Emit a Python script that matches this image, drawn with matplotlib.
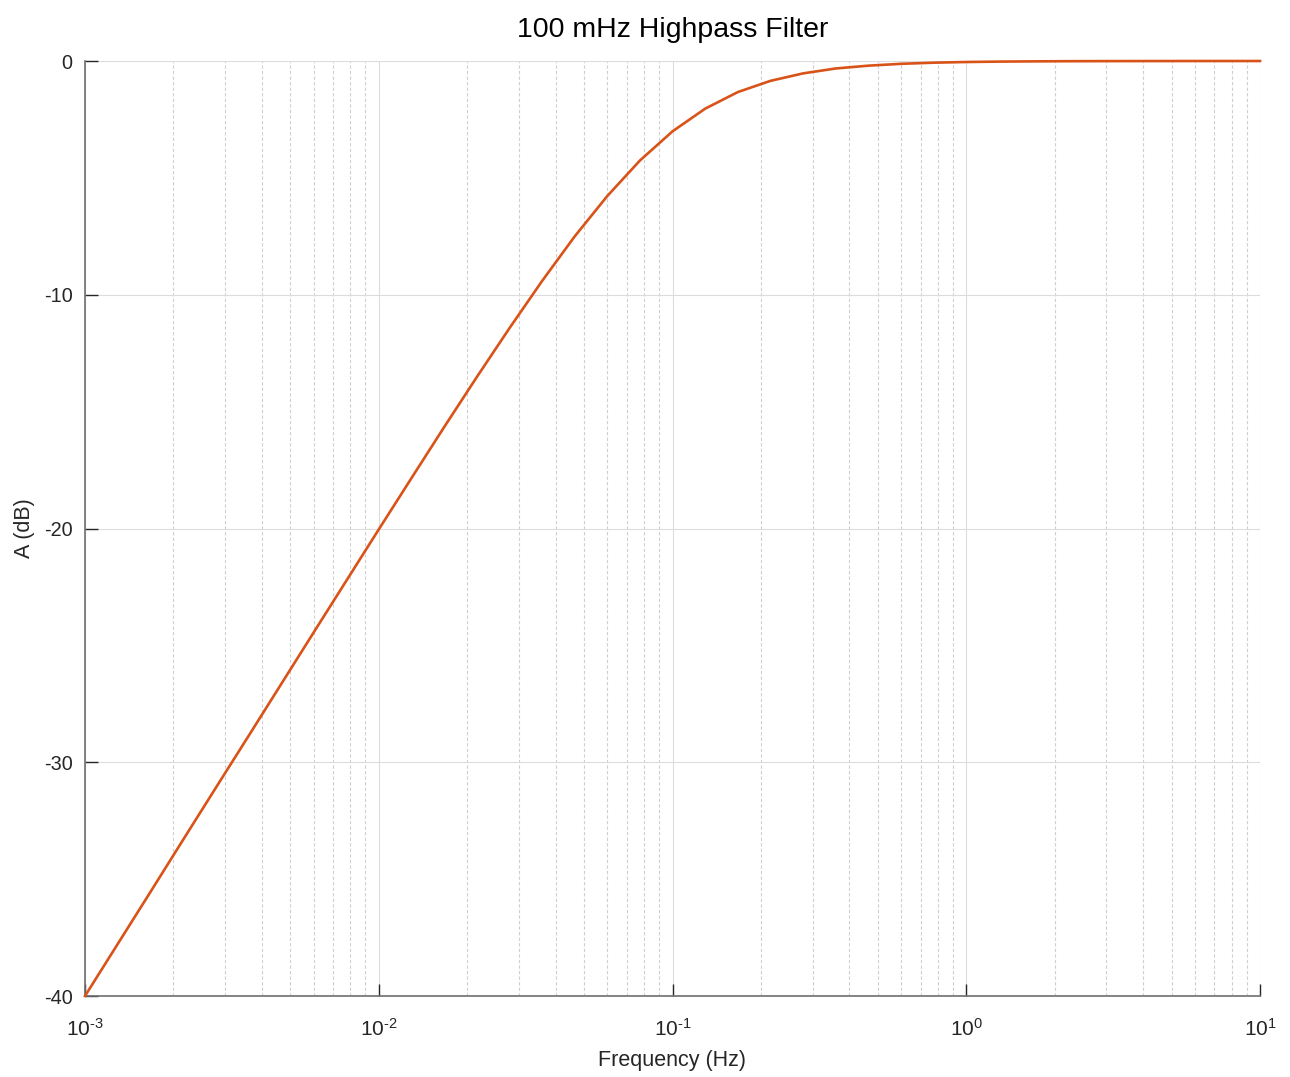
import matplotlib
matplotlib.use("Agg")
import matplotlib.pyplot as plt
from matplotlib.ticker import LogLocator, FixedLocator, FuncFormatter

plt.rcParams['font.family'] = ['Liberation Sans', 'DejaVu Sans']
plt.rcParams['mathtext.fontset'] = 'custom'
plt.rcParams['mathtext.rm'] = 'Liberation Sans'
plt.rcParams['mathtext.it'] = 'Liberation Sans'
plt.rcParams['mathtext.default'] = 'regular'
plt.rcParams['axes.unicode_minus'] = False

# Data
freq_hz = [0.001, 0.0012915, 0.0016681, 0.0021544, 0.0027826, 0.0035938, 0.0046416,
           0.0059948, 0.0077426, 0.01, 0.012915, 0.016681, 0.021544, 0.027826,
           0.035938, 0.046416, 0.059948, 0.077426, 0.1, 0.12915, 0.16681, 0.21544,
           0.27826, 0.35938, 0.46416, 0.59948, 0.77426, 1.0, 1.2915, 1.6681, 2.1544,
           2.7826, 3.5938, 4.6416, 5.9948, 7.7426, 10.0]
gain_db = [-40.00, -37.78, -35.56, -33.33, -31.11, -28.90, -26.68, -24.46, -22.25,
           -20.04, -17.85, -15.67, -13.53, -11.44, -9.42, -7.51, -5.78, -4.26, -3.01,
           -2.04, -1.33, -0.85, -0.53, -0.32, -0.20, -0.12, -0.072, -0.043, -0.026,
           -0.016, -0.0094, -0.0056, -0.0034, -0.0020, -0.0012, -0.0007, -0.0004]
x_ticks = [1e-3, 1e-2, 1e-1, 1e0, 1e1]
x_tick_exps = ['-3', '-2', '-1', '0', '1']
y_ticks = [-40, -30, -20, -10, 0]

fig = plt.figure(figsize=(12.9, 10.77), dpi=100)
ax = fig.add_axes([85/1290, 1-996/1077, (1260-85)/1290, (996-61)/1077])

ax.plot(freq_hz, gain_db, color='#D95319', lw=1.9, zorder=3, clip_on=False)

ax.set_xscale('log')
ax.set_xlim(1e-3, 1e1)
ax.set_ylim(-40, 0)


def fmt_x(v, p):
    i = min(range(len(x_ticks)), key=lambda k: abs(x_ticks[k] - v))
    return r'$10^{\text{' + x_tick_exps[i] + '}}$'


ax.xaxis.set_major_locator(FixedLocator(x_ticks))
ax.xaxis.set_major_formatter(FuncFormatter(fmt_x))
ax.xaxis.set_minor_locator(LogLocator(base=10, subs=range(2, 10), numticks=50))
ax.yaxis.set_major_locator(FixedLocator(y_ticks))

ax.grid(True, which='major', color='#dcdcdc', lw=0.8, ls='-')
ax.grid(True, which='minor', axis='x', color='#cfcfcf', lw=0.8, ls=(0, (3, 2)))
ax.set_axisbelow(True)

for s in ['top', 'right']:
    ax.spines[s].set_visible(False)
for s in ['left', 'bottom']:
    ax.spines[s].set_color('#6e6e6e')
    ax.spines[s].set_linewidth(1.2)

ax.tick_params(which='major', direction='in', length=9, width=1.0, color='#262626',
               labelsize=14.3, labelcolor='#262626')
ax.tick_params(axis='x', which='major', pad=16, labelsize=15)
ax.tick_params(axis='y', which='major', pad=9)
ax.tick_params(which='minor', length=0)

ax.set_xlabel('Frequency (Hz)', fontsize=15.5, color='#262626', labelpad=7)
ax.set_ylabel('A (dB)', fontsize=15.5, color='#262626', labelpad=6)
ax.set_title('100 mHz Highpass Filter', fontsize=20.5, color='#000000', pad=17)

fig.savefig('out.png', dpi=100, facecolor='white')
